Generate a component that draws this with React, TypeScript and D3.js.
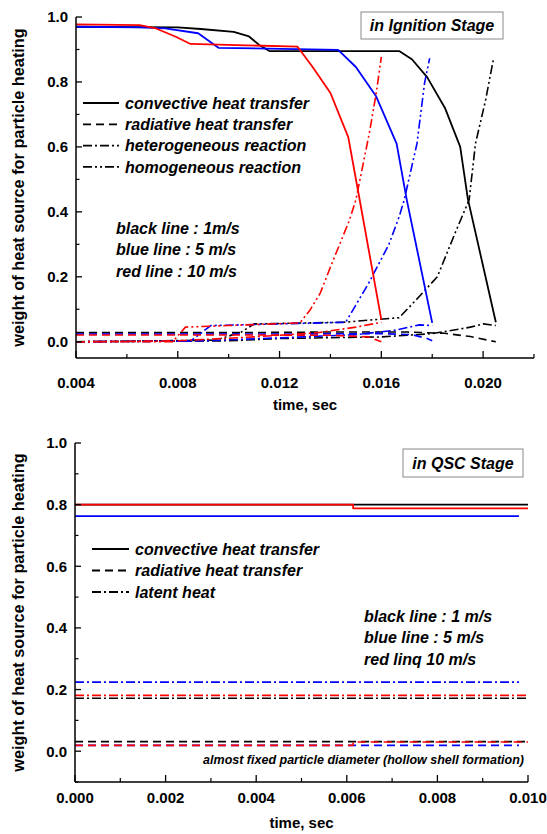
import React from "react";
import * as d3 from "d3";

type P = [number, number];

// ---------- Ignition stage data ----------
const igXTicks = [0.004, 0.008, 0.012, 0.016, 0.02];
const igXMinor = [0.006, 0.01, 0.014, 0.018, 0.022];
const igYTicks = [0, 0.2, 0.4, 0.6, 0.8, 1.0];
const igYMinor = [0.1, 0.3, 0.5, 0.7, 0.9];

const igConvBlack: P[] = [[0.004, 0.97], [0.008, 0.968], [0.0089, 0.963], [0.0102, 0.954], [0.0108, 0.94], [0.0112, 0.914], [0.0116, 0.895], [0.0167, 0.895], [0.0172, 0.87], [0.0178, 0.815], [0.0185, 0.72], [0.0191, 0.6], [0.0194, 0.44], [0.0205, 0.06]];
const igConvBlue: P[] = [[0.004, 0.97], [0.0065, 0.968], [0.0075, 0.965], [0.0088, 0.95], [0.0096, 0.905], [0.0143, 0.899], [0.015, 0.846], [0.0158, 0.755], [0.0166, 0.61], [0.017, 0.437], [0.018, 0.058]];
const igConvRed: P[] = [[0.004, 0.977], [0.0065, 0.975], [0.0071, 0.966], [0.0079, 0.94], [0.0085, 0.917], [0.0127, 0.909], [0.0133, 0.846], [0.014, 0.766], [0.0147, 0.63], [0.0151, 0.458], [0.016, 0.068]];

const igRadBlack: P[] = [[0.004, 0.028], [0.01, 0.028], [0.014, 0.03], [0.017, 0.03], [0.0185, 0.026], [0.0195, 0.016], [0.0205, 0.0]];
const igRadBlue: P[] = [[0.004, 0.024], [0.012, 0.024], [0.016, 0.025], [0.0172, 0.022], [0.0178, 0.01], [0.018, 0.003]];
const igRadRed: P[] = [[0.004, 0.021], [0.01, 0.021], [0.014, 0.02], [0.0155, 0.015], [0.016, 0.0]];

const igHetBlack: P[] = [[0.004, 0.0], [0.01, 0.003], [0.012, 0.01], [0.016, 0.015], [0.018, 0.025], [0.0195, 0.045], [0.02, 0.055], [0.0205, 0.05]];
const igHetBlue: P[] = [[0.004, 0.0], [0.009, 0.003], [0.012, 0.012], [0.015, 0.022], [0.0165, 0.035], [0.0175, 0.052], [0.018, 0.05]];
const igHetRed: P[] = [[0.004, 0.0], [0.008, 0.003], [0.011, 0.015], [0.0135, 0.028], [0.015, 0.045], [0.016, 0.06]];

const igHomBlack: P[] = [[0.004, 0.0], [0.0095, 0.005], [0.0105, 0.03], [0.011, 0.055], [0.0145, 0.06], [0.0167, 0.074], [0.0175, 0.14], [0.0182, 0.2], [0.0189, 0.335], [0.01945, 0.437], [0.0197, 0.61], [0.0201, 0.745], [0.0204, 0.868]];
const igHomBlue: P[] = [[0.004, 0.0], [0.0085, 0.002], [0.0093, 0.05], [0.012, 0.055], [0.0146, 0.06], [0.0155, 0.18], [0.0163, 0.3], [0.0167, 0.385], [0.0169, 0.437], [0.0174, 0.61], [0.0177, 0.797], [0.0179, 0.873]];
const igHomRed: P[] = [[0.004, 0.0], [0.0078, 0.0], [0.0083, 0.045], [0.01, 0.05], [0.0128, 0.058], [0.0132, 0.098], [0.0136, 0.15], [0.014, 0.23], [0.01475, 0.375], [0.015, 0.437], [0.01553, 0.643], [0.0158, 0.766], [0.016, 0.877]];

const igLegend = ["convective heat transfer", "radiative heat transfer", "heterogeneous reaction", "homogeneous reaction"];
const igSpeeds = ["black line : 1m/s", "blue line : 5 m/s", "red line : 10 m/s"];

// ---------- QSC stage data ----------
const qXTicks = [0, 0.002, 0.004, 0.006, 0.008, 0.01];
const qXMinor = [0.001, 0.003, 0.005, 0.007, 0.009];
const qYTicks = [0, 0.2, 0.4, 0.6, 0.8, 1.0];
const qYMinor = [-0.1, 0.1, 0.3, 0.5, 0.7, 0.9];

const qConvBlack: P[] = [[0, 0.8], [0.01, 0.8]];
const qConvBlue: P[] = [[0, 0.763], [0.0098, 0.763]];
const qConvRed: P[] = [[0, 0.8], [0.00614, 0.8], [0.00614, 0.788], [0.01, 0.788]];
const qRadBlack: P[] = [[0, 0.031], [0.01, 0.031]];
const qRadBlue: P[] = [[0, 0.019], [0.0098, 0.019]];
const qRadRed: P[] = [[0, 0.019], [0.00614, 0.019], [0.00614, 0.03], [0.01, 0.03]];
const qLatBlack: P[] = [[0, 0.172], [0.01, 0.172]];
const qLatBlue: P[] = [[0, 0.224], [0.0098, 0.224]];
const qLatRed: P[] = [[0, 0.181], [0.01, 0.181]];

const qLegend = ["convective heat transfer", "radiative heat transfer", "latent heat"];
const qSpeeds = ["black line : 1 m/s", "blue line : 5 m/s", "red linq 10 m/s"];

const FONT = "'Liberation Sans', Arial, Helvetica, sans-serif";
const DASH: Record<string, string | undefined> = {
  solid: undefined,
  dash: "8,5",
  dashdot: "9,3,2,3",
  dashdotdot: "9,3,2,3,2,3",
};

interface SeriesDef { data: P[]; color: string; style: string; w?: number }

function Panel(props: {
  x0: number; x1: number; y0: number; y1: number;
  xDomain: [number, number]; yDomain: [number, number];
  xTicks: number[]; xMinor: number[]; yTicks: number[]; yMinor: number[];
  xFmt: (v: number) => string; series: SeriesDef[]; tickOff: number; titleOff: number;
}) {
  const { x0, x1, y0, y1, xDomain, yDomain, xTicks, xMinor, yTicks, yMinor, xFmt, series, tickOff, titleOff } = props;
  const xs = d3.scaleLinear().domain(xDomain).range([x0, x1]);
  const ys = d3.scaleLinear().domain(yDomain).range([y1, y0]);
  const line = d3.line<P>().x((d) => xs(d[0])).y((d) => ys(d[1]));
  return (
    <g>
      {series.map((s, i) => (
        <path key={i} d={line(s.data) || ""} fill="none" stroke={s.color} strokeWidth={s.w ?? 1.6}
          strokeDasharray={DASH[s.style]} strokeLinejoin="round" />
      ))}
      <line x1={x0} x2={x0} y1={ys(yDomain[1])} y2={y1} stroke="#000" strokeWidth={1.5} />
      <line x1={x0} x2={x1} y1={y1} y2={y1} stroke="#000" strokeWidth={1.5} />
      {yTicks.map((t) => (
        <g key={"yt" + t}>
          <line x1={x0} x2={x0 + 6} y1={ys(t)} y2={ys(t)} stroke="#000" strokeWidth={1.3} />
          <text x={x0 - 8} y={ys(t)} dy="0.36em" textAnchor="end" fontSize={15} fontWeight="bold" fontFamily={FONT}>{t.toFixed(1)}</text>
        </g>
      ))}
      {yMinor.map((t) => (
        <line key={"ym" + t} x1={x0} x2={x0 + 3.5} y1={ys(t)} y2={ys(t)} stroke="#000" strokeWidth={1.2} />
      ))}
      {xTicks.map((t) => (
        <g key={"xt" + t}>
          <line x1={xs(t)} x2={xs(t)} y1={y1} y2={y1 - 7} stroke="#000" strokeWidth={1.3} />
          <text x={xs(t)} y={y1 + tickOff} textAnchor="middle" fontSize={15} fontWeight="bold" fontFamily={FONT}>{xFmt(t)}</text>
        </g>
      ))}
      {xMinor.map((t) => (
        <line key={"xm" + t} x1={xs(t)} x2={xs(t)} y1={y1} y2={y1 - 4} stroke="#000" strokeWidth={1.2} />
      ))}
      <text x={(x0 + x1) / 2} y={y1 + titleOff} textAnchor="middle" fontSize={15} fontWeight="bold" fontFamily={FONT}>time, sec</text>
      <text transform={`translate(24,${(ys(yDomain[1]) + y1) / 2}) rotate(-90)`} textAnchor="middle" fontSize={16.3} fontWeight="bold" fontFamily={FONT}>
        weight of heat source for particle heating
      </text>
    </g>
  );
}

function Legend(props: { x: number; y: number; gap: number; len: number; items: string[]; styles: string[] }) {
  const { x, y, gap, len, items, styles } = props;
  return (
    <g>
      {items.map((t, i) => (
        <g key={t}>
          <line x1={x} x2={x + len} y1={y + i * gap} y2={y + i * gap} stroke="#000" strokeWidth={1.8} strokeDasharray={DASH[styles[i]]} />
          <text x={x + len + 6} y={y + i * gap} dy="0.36em" fontSize={16} fontWeight="bold" fontStyle="italic" fontFamily={FONT}>{t}</text>
        </g>
      ))}
    </g>
  );
}

function Notes(props: { x: number; y: number; gap: number; items: string[] }) {
  return (
    <g>
      {props.items.map((t, i) => (
        <text key={t} x={props.x} y={props.y + i * props.gap} dy="0.36em" fontSize={16} fontWeight="bold" fontStyle="italic" fontFamily={FONT}>{t}</text>
      ))}
    </g>
  );
}

export default function App() {
  const igSeries: SeriesDef[] = [
    { data: igRadBlack, color: "#000", style: "dash" },
    { data: igHetBlack, color: "#000", style: "dashdot" },
    { data: igHomBlack, color: "#000", style: "dashdotdot" },
    { data: igConvBlack, color: "#000", style: "solid", w: 1.8 },
    { data: igRadBlue, color: "#0000ff", style: "dash" },
    { data: igHetBlue, color: "#0000ff", style: "dashdot" },
    { data: igHomBlue, color: "#0000ff", style: "dashdotdot" },
    { data: igConvBlue, color: "#0000ff", style: "solid", w: 1.8 },
    { data: igRadRed, color: "#ff0000", style: "dash" },
    { data: igHetRed, color: "#ff0000", style: "dashdot" },
    { data: igHomRed, color: "#ff0000", style: "dashdotdot" },
    { data: igConvRed, color: "#ff0000", style: "solid", w: 1.8 },
  ];
  const qSeries: SeriesDef[] = [
    { data: qConvBlack, color: "#000", style: "solid", w: 1.8 },
    { data: qRadBlack, color: "#000", style: "dash" },
    { data: qLatBlack, color: "#000", style: "dashdot" },
    { data: qConvBlue, color: "#0000ff", style: "solid", w: 1.8 },
    { data: qRadBlue, color: "#0000ff", style: "dash" },
    { data: qLatBlue, color: "#0000ff", style: "dashdot" },
    { data: qConvRed, color: "#ff0000", style: "solid", w: 1.8 },
    { data: qRadRed, color: "#ff0000", style: "dash" },
    { data: qLatRed, color: "#ff0000", style: "dashdot" },
  ];
  return (
    <svg width={547} height={834} style={{ position: "absolute", left: 0, top: 0, background: "#fff" }}>
      <rect width={547} height={834} fill="#fff" />
      <Panel x0={76} x1={534} y0={17} y1={358} xDomain={[0.004, 0.022]} yDomain={[-0.05, 1.0]}
        xTicks={igXTicks} xMinor={igXMinor} yTicks={igYTicks} yMinor={igYMinor}
        xFmt={(v) => v.toFixed(3)} series={igSeries} tickOff={30} titleOff={52} />
      <rect x={361} y={12} width={142} height={27} fill="#fff" stroke="#888" strokeWidth={1} />
      <text x={432} y={25.5} dy="0.36em" textAnchor="middle" fontSize={16} fontWeight="bold" fontStyle="italic" fontFamily={FONT}>in Ignition Stage</text>
      <Legend x={83} y={103} gap={21.3} len={36} items={igLegend} styles={["solid", "dash", "dashdot", "dashdotdot"]} />
      <Notes x={116} y={228} gap={21.5} items={igSpeeds} />

      <Panel x0={75} x1={528} y0={443} y1={782} xDomain={[0, 0.01]} yDomain={[-0.1, 1.0]}
        xTicks={qXTicks} xMinor={qXMinor} yTicks={qYTicks} yMinor={qYMinor}
        xFmt={(v) => v.toFixed(3)} series={qSeries} tickOff={21} titleOff={46} />
      <rect x={403} y={449} width={120} height={28} fill="#fff" stroke="#888" strokeWidth={1} />
      <text x={463} y={463} dy="0.36em" textAnchor="middle" fontSize={16} fontWeight="bold" fontStyle="italic" fontFamily={FONT}>in QSC Stage</text>
      <Legend x={92} y={549} gap={21.5} len={37} items={qLegend} styles={["solid", "dash", "dashdot"]} />
      <Notes x={364} y={616} gap={21.5} items={qSpeeds} />
      <text x={524} y={759} dy="0.36em" textAnchor="end" fontSize={12.5} fontWeight="bold" fontStyle="italic" fontFamily={FONT}>
        almost fixed particle diameter (hollow shell formation)
      </text>
    </svg>
  );
}
